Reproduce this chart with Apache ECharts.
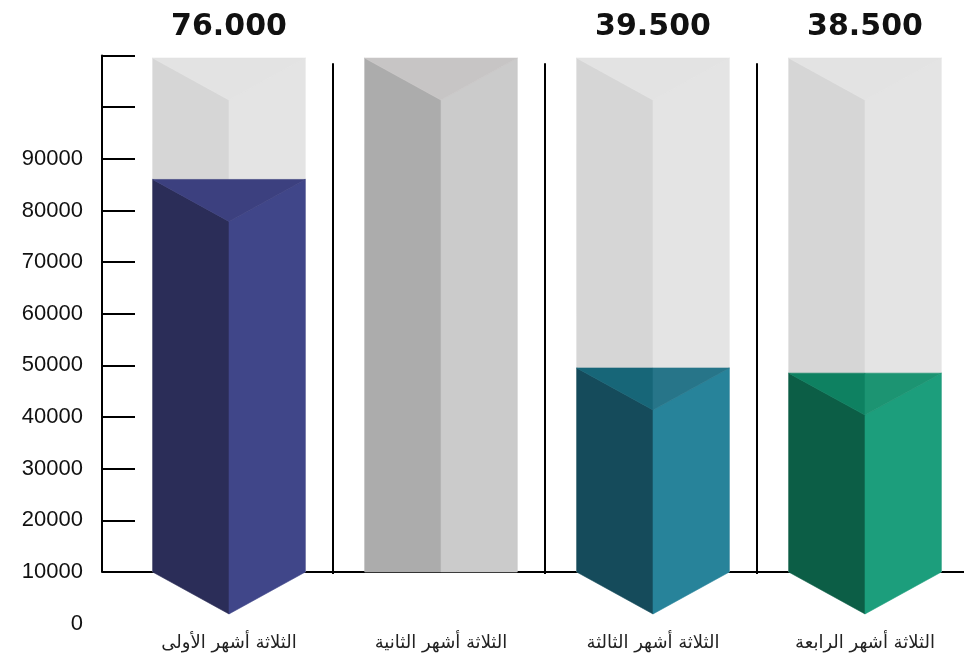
<!DOCTYPE html>
<html>
<head>
<meta charset="utf-8">
<script src="https://cdn.jsdelivr.net/npm/echarts@6/dist/echarts.min.js"></script>
<style>
  html, body { margin: 0; padding: 0; background: #ffffff; }
  #chart { width: 964px; height: 658px; }
</style>
</head>
<body>
<div id="chart"></div>
<script>
// Quarterly figures
const categories = ['الثلاثة أشهر الأولى', 'الثلاثة أشهر الثانية', 'الثلاثة أشهر الثالثة', 'الثلاثة أشهر الرابعة'];
const values = [76000, null, 39500, 38500];
// Height of the empty container prism behind each bar
const tubeValue = 99500;
// Axis labels, lowest first
const yTickLabels = ['0', '10000', '20000', '30000', '40000', '50000', '60000', '70000', '80000', '90000'];

// Face colours: [left, right, top-left, top-right]
const barColors = [
  ['#2b2d58', '#404689', '#3c407f', '#3c407f'],
  null,
  ['#154b5b', '#27839a', '#176678', '#277589'],
  ['#0c5e46', '#1c9e7c', '#0e8161', '#1c9472']
];
const tubeColors = [
  ['#d6d6d6', '#e4e4e4', '#e3e3e3', '#e3e3e3'],
  ['#acacac', '#cbcbcb', '#c7c5c5', '#c7c5c5'],
  ['#d6d6d6', '#e4e4e4', '#e3e3e3', '#e3e3e3'],
  ['#d6d6d6', '#e4e4e4', '#e3e3e3', '#e3e3e3']
];

function formatValue(v) {
  return Math.round(v).toString().replace(/\B(?=(\d{3})+(?!\d))/g, '.');
}

function face(points, color) {
  return {
    type: 'polygon',
    shape: { points: points },
    style: { fill: color, stroke: color, lineWidth: 0.6 }
  };
}

// A prism seen from slightly above: two front faces and a V-shaped top.
// When pointed, the front faces extend below the base into a downward tip.
function prism(api, value, colors, pointed) {
  const idx = api.value(0);
  const band = api.size([1, 0])[0];
  const half = band * 0.36;
  const depth = half * 0.55;
  const top = api.coord([idx, value]);
  const base = api.coord([idx, 0]);
  const cx = top[0], x0 = cx - half, x1 = cx + half;
  const yt = top[1], yb = base[1];
  const tip = pointed ? yb + depth : yb;
  const faces = [
    face([[x0, yt], [cx, yt + depth], [cx, tip], [x0, yb]], colors[0]),
    face([[cx, yt + depth], [x1, yt], [x1, yb], [cx, tip]], colors[1])
  ];
  if (colors[2] === colors[3]) {
    faces.push(face([[x0, yt], [x1, yt], [cx, yt + depth]], colors[2]));
  } else {
    faces.push(face([[x0, yt], [cx, yt], [cx, yt + depth]], colors[2]));
    faces.push(face([[cx, yt], [x1, yt], [cx, yt + depth]], colors[3]));
  }
  return faces;
}

const chart = echarts.init(document.getElementById('chart'));

chart.setOption({
  animation: false,
  backgroundColor: '#ffffff',
  grid: [
    { left: 123, width: 848, top: 55.5, bottom: 86, outerBoundsMode: 'none', containLabel: false },
    { left: 123, width: 848, top: 55.5, bottom: 34.35, outerBoundsMode: 'none', containLabel: false }
  ],
  xAxis: [
    {
      type: 'category',
      gridIndex: 0,
      data: categories,
      axisLine: { lineStyle: { color: '#000', width: 2 } },
      axisTick: { show: false },
      splitLine: { show: false },
      axisLabel: {
        margin: 62,
        fontSize: 18,
        fontFamily: 'DejaVu Sans',
        color: '#222'
      }
    },
    { type: 'category', gridIndex: 1, data: categories, show: false }
  ],
  yAxis: [
    {
      type: 'value',
      gridIndex: 0,
      min: 0,
      max: 100000,
      interval: 10000,
      position: 'left',
      offset: 21,
      axisLine: { show: true, lineStyle: { color: '#000', width: 2 } },
      axisTick: { show: true, inside: true, length: 33, lineStyle: { color: '#000', width: 2 } },
      axisLabel: { show: false },
      splitLine: { show: false }
    },
    {
      type: 'value',
      gridIndex: 1,
      min: -10000,
      max: 100000,
      interval: 10000,
      position: 'left',
      offset: 21,
      axisLine: { show: false },
      axisTick: { show: false },
      splitLine: { show: false },
      axisLabel: {
        margin: 19,
        fontSize: 22,
        fontFamily: 'Liberation Sans',
        color: '#111',
        formatter: function (v) {
          const label = yTickLabels[Math.round((v + 10000) / 10000)];
          return label === undefined ? '' : label;
        }
      }
    }
  ],
  series: [
    {
      // Empty container prisms
      type: 'custom',
      xAxisIndex: 0,
      yAxisIndex: 0,
      data: categories.map(function (c, i) { return [i, tubeValue]; }),
      renderItem: function (params, api) {
        const i = params.dataIndex;
        return { type: 'group', children: prism(api, api.value(1), tubeColors[i], false) };
      }
    },
    {
      // Filled prisms with their value captions
      type: 'custom',
      xAxisIndex: 0,
      yAxisIndex: 0,
      data: values.map(function (v, i) { return [i, v]; }),
      renderItem: function (params, api) {
        const i = params.dataIndex;
        const v = values[i];
        if (v === null || !barColors[i]) return { type: 'group', children: [] };
        const children = prism(api, v, barColors[i], true);
        const capY = api.coord([i, tubeValue])[1] - 31;
        children.push({
          type: 'text',
          style: {
            x: api.coord([i, v])[0],
            y: capY,
            text: formatValue(v),
            fill: '#111',
            font: 'bold 30px "DejaVu Sans"',
            align: 'center',
            verticalAlign: 'middle'
          }
        });
        return { type: 'group', children: children };
      }
    },
    {
      // Vertical dividers between quarters
      type: 'custom',
      xAxisIndex: 0,
      yAxisIndex: 0,
      data: categories.slice(0, -1).map(function (c, i) { return [i]; }),
      renderItem: function (params, api) {
        const i = api.value(0);
        const band = api.size([1, 0])[0];
        const top = api.coord([i, 98500]);
        const base = api.coord([i, 0]);
        const x = top[0] + band / 2 - 2;
        return {
          type: 'line',
          shape: { x1: x, y1: top[1], x2: x, y2: base[1] + 2 },
          style: { stroke: '#000', lineWidth: 2 }
        };
      }
    }
  ]
});
</script>
</body>
</html>
